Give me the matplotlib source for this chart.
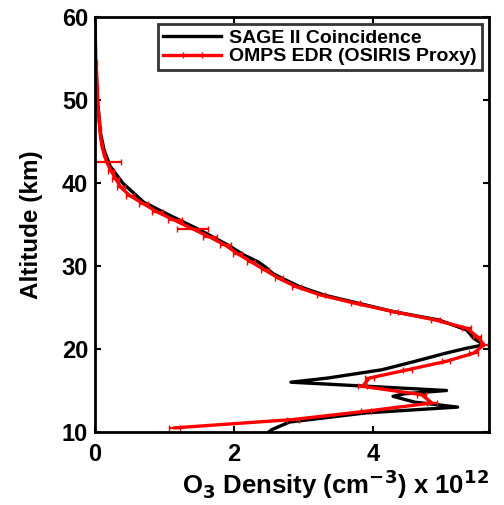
import matplotlib
matplotlib.use("Agg")
import matplotlib.pyplot as plt
import numpy as np

plt.rcParams['font.family'] = ['Liberation Sans', 'DejaVu Sans']
plt.rcParams['font.weight'] = 'bold'

# SAGE II coincidence profile (altitude km, density x1e12 cm^-3)
sage_alt = [10.0, 10.3, 11.2, 12.3, 13.0, 13.6, 14.3, 14.6, 15.0, 16.0, 16.5, 17.5,
            18.5, 19.5, 20.1, 20.5, 21.3, 22.3, 23.5, 24.5, 25.5, 26.5, 27.5, 28.5,
            29.1, 29.9, 30.5, 31.3, 32.5, 34.3, 36.1, 37.7, 40.0, 42.0, 44.0, 46.0,
            50.0, 55.0, 60.0]
sage_dens = [2.5, 2.55, 2.8, 3.9, 5.22, 4.6, 4.29, 4.45, 5.06, 2.82, 3.35, 4.13,
             4.6, 5.05, 5.35, 5.6, 5.45, 5.35, 4.95, 4.3, 3.8, 3.3, 2.95, 2.7,
             2.56, 2.45, 2.35, 2.15, 1.92, 1.52, 1.08, 0.7, 0.4, 0.22, 0.13, 0.08,
             0.035, 0.01, 0.0]

# OMPS EDR (OSIRIS proxy) profile
omps_alt = [10.5, 11.5, 12.5, 13.5, 14.5, 15.5, 16.5, 17.5, 18.5, 19.5, 20.5, 21.5,
            22.5, 23.5, 24.5, 25.5, 26.5, 27.5, 28.5, 29.5, 30.5, 31.5, 32.5, 33.5,
            34.5, 35.5, 36.5, 37.5, 38.5, 39.5, 40.5, 41.5, 42.5, 43.5, 44.5, 45.5,
            46.5, 47.5, 48.5, 49.5, 50.5, 51.5, 52.5, 53.5, 54.5]
omps_dens = [1.15, 2.85, 3.9, 4.85, 4.7, 3.85, 3.95, 4.5, 5.05, 5.45, 5.6, 5.5,
             5.35, 4.9, 4.3, 3.75, 3.25, 2.9, 2.65, 2.45, 2.25, 2.05, 1.88, 1.65,
             1.4, 1.15, 0.9, 0.7, 0.5, 0.37, 0.3, 0.23, 0.17, 0.13, 0.1, 0.08,
             0.07, 0.06, 0.05, 0.04, 0.035, 0.03, 0.025, 0.02, 0.015]
omps_err = [0.08, 0.08, 0.07, 0.07, 0.07, 0.07, 0.06, 0.06, 0.06, 0.06, 0.06, 0.06,
            0.06, 0.06, 0.06, 0.06, 0.06, 0.06, 0.06, 0.06, 0.06, 0.06, 0.08, 0.1,
            0.22, 0.1, 0.08, 0.07, 0.06, 0.06, 0.05, 0.05, 0.2, 0.02, 0.02, 0.01,
            0.01, 0.01, 0.01, 0.01, 0.01, 0.01, 0.01, 0.01, 0.01]

fig = plt.figure(figsize=(5.04, 5.05), dpi=100)
ax = fig.add_axes([0.1885, 0.1446, 0.7815, 0.8214])

ax.plot(sage_dens, sage_alt, color='black', lw=2.4, label='SAGE II Coincidence')
ax.errorbar(omps_dens, omps_alt, xerr=omps_err, color='red', ecolor='red', lw=2.4,
            elinewidth=1.6, capsize=2, label='OMPS EDR (OSIRIS Proxy)')

ax.set_xlim(0, 5.67)
ax.set_ylim(10, 60)
ax.set_xticks([0, 2, 4])
ax.set_yticks([10, 20, 30, 40, 50, 60])
ax.tick_params(direction='in', length=4, width=1.5, labelsize=17, top=True, right=True)
ax.tick_params(axis='x', pad=8)
ax.tick_params(axis='y', pad=5)
for lab in ax.get_xticklabels() + ax.get_yticklabels():
    lab.set_fontweight('bold')
for s in ax.spines.values():
    s.set_linewidth(2)

ax.set_ylabel('Altitude (km)', fontsize=17.5, fontweight='bold')
ax.yaxis.set_label_coords(-0.132, 0.5)
ax.set_xlabel(r'O$_\mathbf{3}$ Density (cm$^\mathbf{-3}$) x 10$^\mathbf{12}$', fontsize=18.5, fontweight='bold')
ax.xaxis.set_label_coords(0.61, -0.085)

leg = ax.legend(loc='upper right', fontsize=14, frameon=True, fancybox=False,
                edgecolor='black', borderpad=0.25, handlelength=3.0, handletextpad=0.4,
                labelspacing=0.05, borderaxespad=0.37)
leg.get_frame().set_linewidth(2)
for t in leg.get_texts():
    t.set_fontweight('bold')

fig.savefig('out.png', dpi=100)
